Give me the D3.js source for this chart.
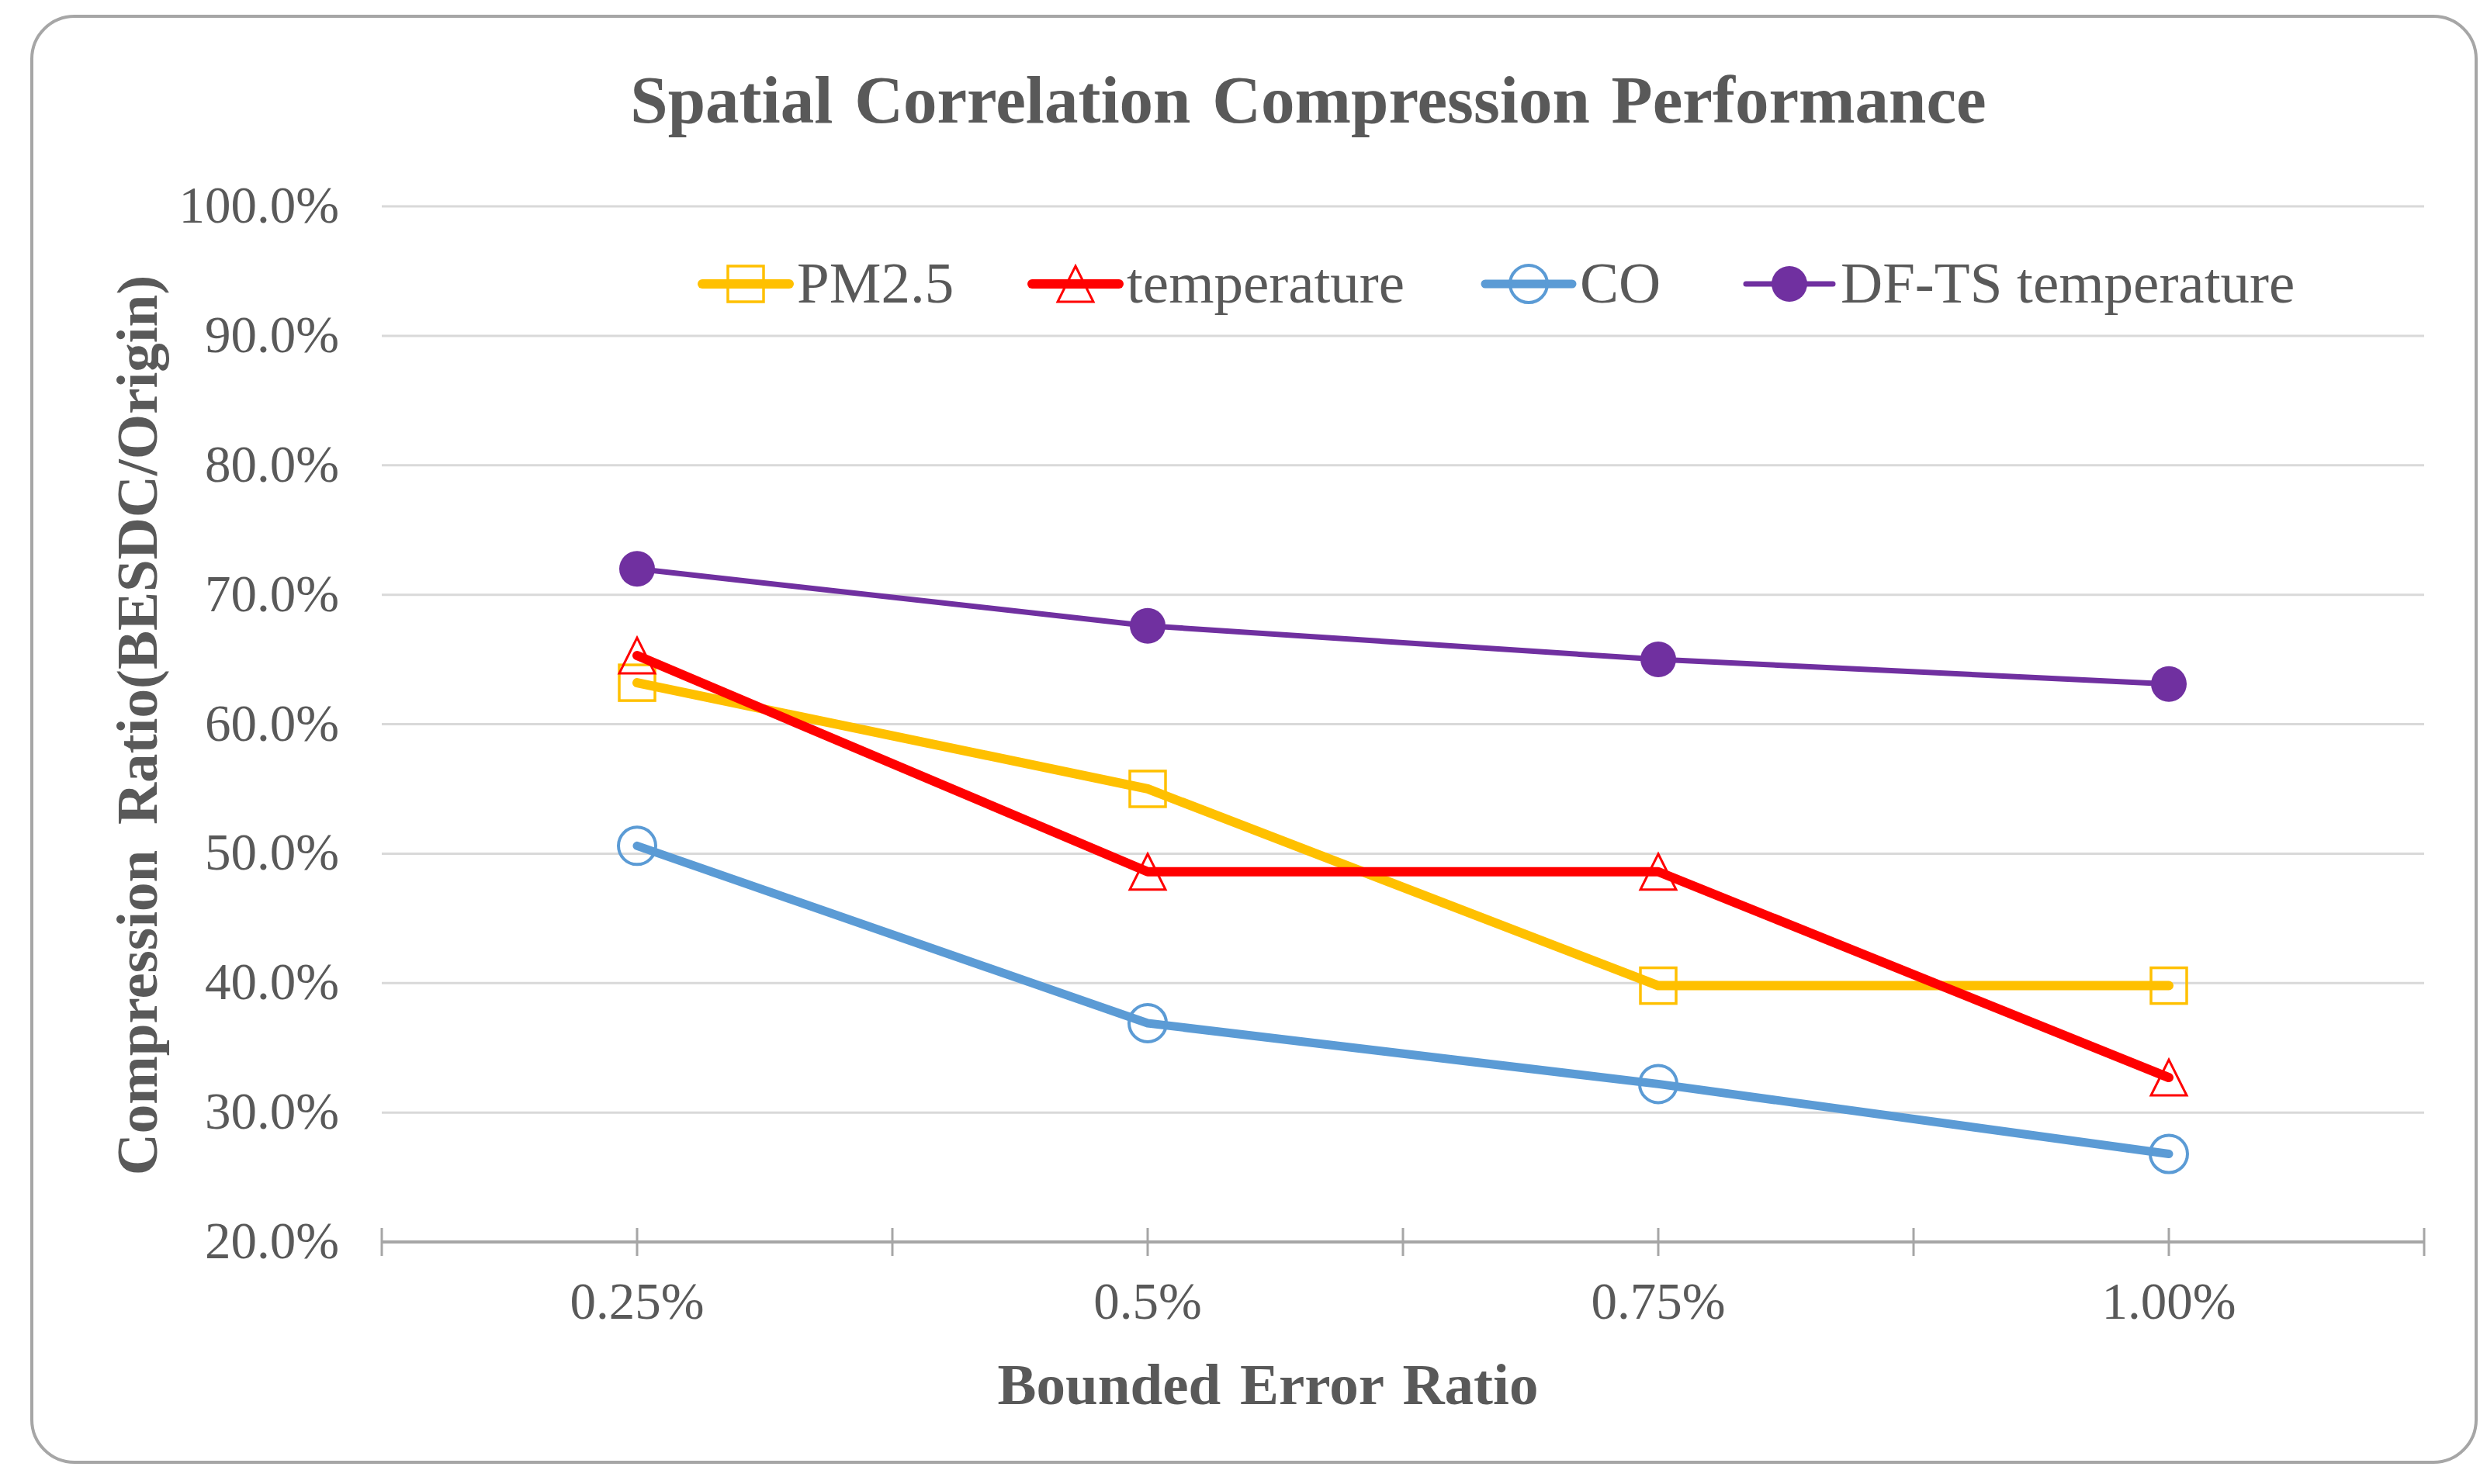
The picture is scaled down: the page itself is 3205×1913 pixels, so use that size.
<!DOCTYPE html>
<html>
<head>
<meta charset="utf-8">
<script src="https://cdn.jsdelivr.net/npm/d3@7"></script>
<style>
  body { margin: 0; background: #ffffff; }
  text { font-family: "Liberation Serif", "Times New Roman", serif; fill: #595959; }
</style>
</head>
<body>
<script>
var categories = ["0.25%", "0.5%", "0.75%", "1.00%"];

var pm25 = [63.2, 55.0, 39.8, 39.8];
var temperature = [65.3, 48.6, 48.6, 32.7];
var co = [50.6, 36.9, 32.2, 26.8];
var dfts = [72.0, 67.6, 65.0, 63.1];

var yTicks = [20, 30, 40, 50, 60, 70, 80, 90, 100];

var seriesList = [
    { name: "PM2.5", values: pm25, color: "#FFC000", width: 12, marker: "square" },
    { name: "temperature", values: temperature, color: "#FF0000", width: 12, marker: "triangle" },
    { name: "CO", values: co, color: "#5B9BD5", width: 11, marker: "circle" },
    { name: "DF-TS temperature", values: dfts, color: "#7030A0", width: 7, marker: "dot" }
];

var width = 3205
var height = 1913

const svg = d3.select("body").append("svg")
    .attr("width", width)
    .attr("height", height);

// chart frame
svg.append("rect")
    .attr("x", 41)
    .attr("y", 21)
    .attr("width", 3150)
    .attr("height", 1864)
    .attr("rx", 55)
    .attr("fill", "#ffffff")
    .attr("stroke", "#a6a6a6")
    .attr("stroke-width", 4);

var x = d3.scaleBand()
    .domain(categories)
    .range([492, 3124])
    .padding(0);

var y = d3.scaleLinear()
    .domain([20, 100])
    .range([1601, 266]);

function cx(c) { return x(c) + x.bandwidth() / 2; }

// gridlines
svg.append("g")
    .attr("class", "grid")
    .selectAll("line")
    .data(yTicks.slice(1))
    .enter()
    .append("line")
    .attr("x1", x.range()[0])
    .attr("x2", x.range()[1])
    .attr("y1", d => y(d))
    .attr("y2", d => y(d))
    .attr("stroke", "#d9d9d9")
    .attr("stroke-width", 3);

// y tick labels
svg.append("g")
    .attr("class", "yLabels")
    .selectAll("text")
    .data(yTicks)
    .enter()
    .append("text")
    .attr("x", 437)
    .attr("y", d => y(d) + 21)
    .attr("text-anchor", "end")
    .attr("font-size", 67)
    .text(d => d.toFixed(1) + "%");

// x axis line and tick marks (at boundaries and at category centres)
var tickPos = [];
categories.forEach(function (c) {
    tickPos.push(x(c));
    tickPos.push(cx(c));
});
tickPos.push(x.range()[1]);

svg.append("line")
    .attr("x1", x.range()[0])
    .attr("x2", x.range()[1])
    .attr("y1", y(20))
    .attr("y2", y(20))
    .attr("stroke", "#a6a6a6")
    .attr("stroke-width", 4);

svg.append("g")
    .attr("class", "xTicks")
    .selectAll("line")
    .data(tickPos)
    .enter()
    .append("line")
    .attr("x1", d => d)
    .attr("x2", d => d)
    .attr("y1", y(20) - 18)
    .attr("y2", y(20) + 18)
    .attr("stroke", "#a6a6a6")
    .attr("stroke-width", 3);

svg.append("g")
    .attr("class", "xLabels")
    .selectAll("text")
    .data(categories)
    .enter()
    .append("text")
    .attr("x", d => cx(d))
    .attr("y", 1700)
    .attr("text-anchor", "middle")
    .attr("font-size", 67)
    .text(d => d);

// markers
function drawMarker(sel, type, color) {
    if (type === "square") {
        sel.append("rect")
            .attr("x", -23).attr("y", -23)
            .attr("width", 46).attr("height", 46)
            .attr("fill", "none")
            .attr("stroke", color)
            .attr("stroke-width", 3.5);
    } else if (type === "triangle") {
        sel.append("path")
            .attr("d", "M0,-23L23,23L-23,23Z")
            .attr("fill", "none")
            .attr("stroke", color)
            .attr("stroke-width", 3);
    } else if (type === "circle") {
        sel.append("circle")
            .attr("r", 24)
            .attr("fill", "none")
            .attr("stroke", color)
            .attr("stroke-width", 4);
    } else {
        sel.append("circle")
            .attr("r", 23)
            .attr("fill", color);
    }
}

var line = d3.line()
    .x((d, i) => cx(categories[i]))
    .y(d => y(d));

seriesList.forEach(function (s) {
    var g = svg.append("g").attr("class", "series");
    g.append("path")
        .datum(s.values)
        .attr("d", line)
        .attr("fill", "none")
        .attr("stroke", s.color)
        .attr("stroke-width", s.width)
        .attr("stroke-linecap", "round")
        .attr("stroke-linejoin", "round");
    g.selectAll("g.marker")
        .data(s.values)
        .enter()
        .append("g")
        .attr("class", "marker")
        .attr("transform", (d, i) => "translate(" + cx(categories[i]) + "," + y(d) + ")")
        .each(function () { drawMarker(d3.select(this), s.marker, s.color); });
});

// legend
var legendX = [905, 1330, 1914, 2250];
var legend = svg.append("g").attr("class", "legend");
seriesList.forEach(function (s, i) {
    var lg = legend.append("g").attr("transform", "translate(" + legendX[i] + ",366)");
    lg.append("line")
        .attr("x1", 0).attr("x2", 112)
        .attr("stroke", s.color)
        .attr("stroke-width", s.width)
        .attr("stroke-linecap", "round");
    var m = lg.append("g").attr("transform", "translate(56,0)");
    drawMarker(m, s.marker, s.color);
    lg.append("text")
        .attr("x", 122)
        .attr("y", 24)
        .attr("font-size", 75)
        .text(s.name);
});

// titles
svg.append("text")
    .attr("x", 1686)
    .attr("y", 158)
    .attr("text-anchor", "middle")
    .attr("font-size", 87)
    .attr("font-weight", "bold")
    .attr("word-spacing", 6)
    .text("Spatial Correlation Compression Performance");

svg.append("text")
    .attr("x", 1634)
    .attr("y", 1810)
    .attr("text-anchor", "middle")
    .attr("font-size", 75)
    .attr("font-weight", "bold")
    .attr("word-spacing", 6)
    .text("Bounded Error Ratio");

svg.append("text")
    .attr("transform", "translate(202,935) rotate(-90)")
    .attr("text-anchor", "middle")
    .attr("font-size", 75)
    .attr("font-weight", "bold")
    .attr("word-spacing", 14)
    .text("Compression Ratio(BESDC/Origin)");
</script>
</body>
</html>
